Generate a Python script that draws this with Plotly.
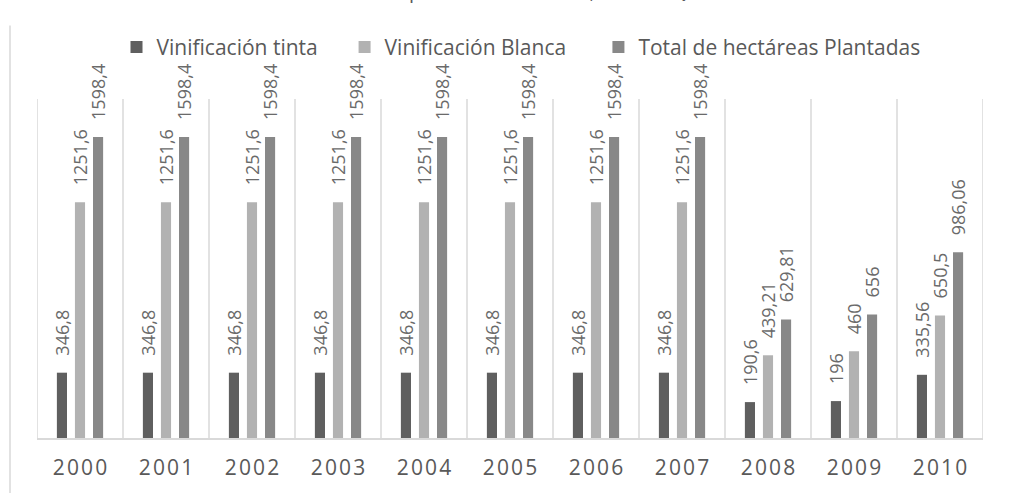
import plotly.graph_objects as go

years = ["2000", "2001", "2002", "2003", "2004", "2005", "2006", "2007", "2008", "2009", "2010"]
tinta = [346.8, 346.8, 346.8, 346.8, 346.8, 346.8, 346.8, 346.8, 190.6, 196, 335.56]
blanca = [1251.6, 1251.6, 1251.6, 1251.6, 1251.6, 1251.6, 1251.6, 1251.6, 439.21, 460, 650.5]
total = [1598.4, 1598.4, 1598.4, 1598.4, 1598.4, 1598.4, 1598.4, 1598.4, 629.81, 656, 986.06]

series_names = ["Vinificación tinta", "Vinificación Blanca", "Total de hectáreas Plantadas"]
series_values = [tinta, blanca, total]
series_colors = ["#5f5f5f", "#b2b2b2", "#888888"]
legend_pad = [4, 5, 0]

title_text = "Gráfico 1. Hectáreas de producción vinícola, Sonora Querétaro"

FONT = "Open Sans"
GRAY_TXT = "#595959"
NB = "\u00a0"


def fmt(v):
    return NB * 3 + ("%g" % v).replace(".", ",")


tick_text = ["\u200a".join(list(y)) for y in years]

fig = go.Figure()
for name, vals, col, pad in zip(series_names, series_values, series_colors, legend_pad):
    fig.add_trace(go.Bar(
        x=years, y=vals, name=name + NB * pad,
        marker=dict(color=col, line=dict(width=0)),
        text=[fmt(v) for v in vals],
        textposition="outside",
        textangle=-90,
        constraintext="none",
        textfont=dict(family=FONT, size=18, color="#6a6a6a"),
        cliponaxis=False,
    ))

W, H = 1014, 493
L, R, T, B = 37, 31, 99, 53
pw, ph = W - L - R, H - T - B


def px2x(px):
    return (px - L) / pw


def py2y(py):
    return (H - B - py) / ph


shapes = [dict(
    type="line", xref="paper", yref="paper",
    x0=px2x(10), x1=px2x(10), y0=py2y(25), y1=py2y(500),
    line=dict(color="#d9d9d9", width=1.5),
)]
for i in range(len(years) + 1):
    shapes.append(dict(
        type="line", xref="x", yref="paper",
        x0=i - 0.5, x1=i - 0.5, y0=0, y1=1,
        line=dict(color="#d9d9d9", width=1.5), layer="below",
    ))

fig.update_layout(
    width=W, height=H,
    margin=dict(l=L, r=R, t=T, b=B, pad=0),
    paper_bgcolor="white", plot_bgcolor="white",
    barmode="group", bargap=0.37, bargroupgap=0.44,
    font=dict(family=FONT, color=GRAY_TXT),
    legend=dict(
        orientation="h", x=px2x(521), xanchor="center", y=py2y(47), yanchor="middle",
        font=dict(family=FONT, size=21, color=GRAY_TXT),
        itemwidth=30, traceorder="normal", bgcolor="rgba(0,0,0,0)",
    ),
    showlegend=True,
    xaxis=dict(
        type="category", showgrid=False,
        range=[-0.5, len(years) - 0.5],
        showline=True, linecolor="#d9d9d9", linewidth=2,
        ticks="", tickvals=years, ticktext=tick_text,
        tickfont=dict(family=FONT, size=21, color=GRAY_TXT),
        ticklabelstandoff=10,
    ),
    yaxis=dict(
        range=[0, 1800], showgrid=False, showticklabels=False,
        zeroline=False, showline=False, ticks="",
    ),
    shapes=shapes,
    annotations=[dict(
        text=title_text, xref="paper", yref="paper",
        x=px2x(478), y=py2y(5), xanchor="center", yanchor="bottom",
        showarrow=False, font=dict(family=FONT, size=20, color=GRAY_TXT),
    )],
)

fig.write_html("out.html", config={"displayModeBar": False},
               post_script="document.body.style.margin='0px';")
